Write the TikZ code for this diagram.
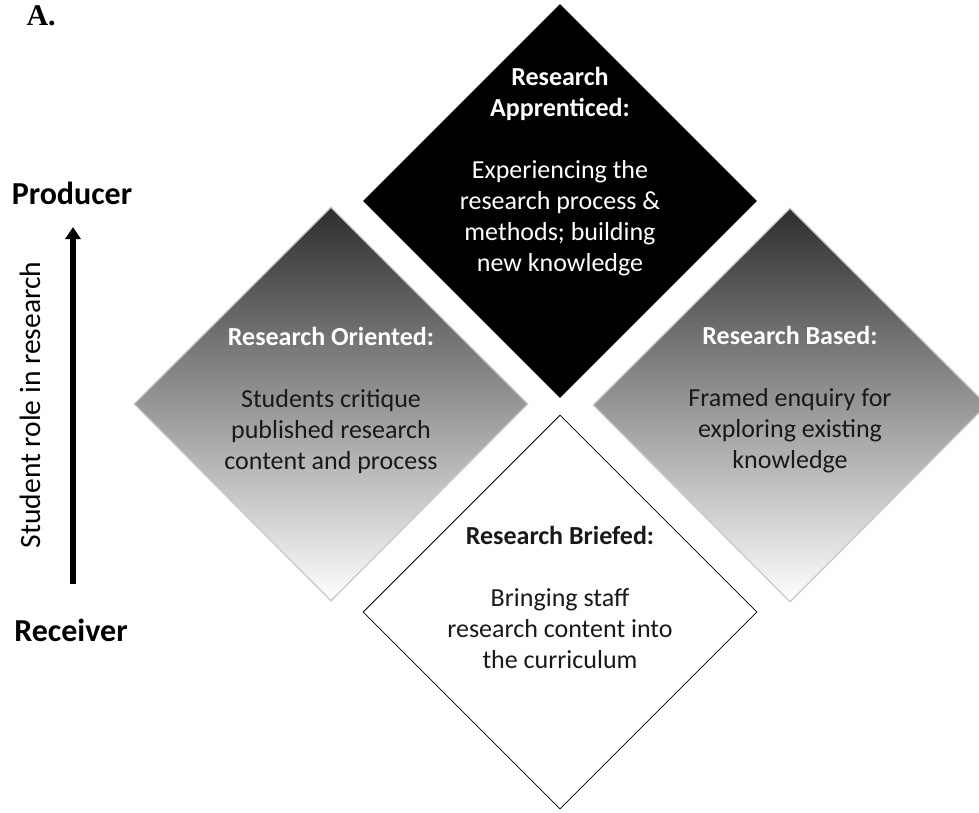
\documentclass[tikz,border=0pt]{standalone}
\usepackage{fontspec}
\setmainfont{Carlito}
\newfontfamily\timesfont{Liberation Serif}
\usetikzlibrary{shapes.geometric,arrows.meta}

\begin{document}
\begin{tikzpicture}[x=1pt,y=-1pt,
    diam/.style={diamond,aspect=1,inner sep=0pt,minimum width=394pt,minimum height=394pt},
    greydiam/.style={diam,draw=black!22,line width=1.2pt,top color=black!82,middle color=black!47,bottom color=white},
    boxtext/.style={align=center,font=\fontsize{26}{31}\selectfont},
    endlabel/.style={font=\fontsize{32}{36}\selectfont\bfseries}]
    \useasboundingbox (0,0) rectangle (979,812);

    % the four diamonds
    \node[diam,fill=black] (appr) at (560,201) {};
    \node[greydiam] (orient) at (331,404) {};
    \node[greydiam] (based) at (790,405) {};
    \node[diam,draw=black,line width=0.8pt,fill=white] (brief) at (560,612) {};

    \node[boxtext,text=white] (apprtext) at (560,172)
        {\textbf{Research}\\\textbf{Apprenticed:}\\[31pt]Experiencing the\\research process \&\\methods; building\\new knowledge};
    \node[boxtext,text=black!90] (orienttext) at (331,400)
        {\textcolor{white}{\textbf{Research Oriented:}}\\[31pt]Students critique\\published research\\content and process};
    \node[boxtext,text=black!90] (basedtext) at (790,400)
        {\textcolor{white}{\textbf{Research Based:}}\\[31pt]Framed enquiry for\\exploring existing\\knowledge};
    \node[boxtext,text=black!90] (brieftext) at (560,597)
        {\textbf{Research Briefed:}\\[31pt]Bringing staff\\research content into\\the curriculum};

    % left axis
    \node[anchor=north west,font=\fontsize{30}{34}\timesfont\bfseries] (lab) at (23,2) {A.};
    \node[endlabel] (prod) at (72,193) {Producer};
    \node[endlabel] (recv) at (71,630) {Receiver};
    \coordinate (abot) at (73,584);
    \coordinate (atop) at (73,227);
    \draw[line width=6pt,-{Triangle[length=12pt,width=15pt]}] (abot) -- (atop);
    \node[rotate=90,font=\fontsize{29.5}{33}\selectfont] (role) at (30,405) {Student role in research};
\end{tikzpicture}
\end{document}
